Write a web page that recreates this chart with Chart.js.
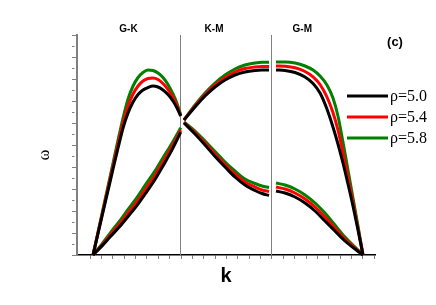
<!DOCTYPE html>
<html>
<head>
<meta charset="utf-8">
<script src="https://cdn.jsdelivr.net/npm/chart.js@4.4.1/dist/chart.umd.min.js"></script>
<style>
  html, body { margin: 0; padding: 0; background: #fff; }
</style>
</head>
<body>
<canvas id="chart" width="436" height="305"></canvas>
<script>
// symmetry points along the path G-K-M-G (k, arbitrary units)
const kPoints = [0, 0.964, 1.967, 2.967];
const segmentLabels = ["G-K", "K-M", "G-M"];
const segmentLabelK = [0.39, 1.33, 2.3];
const legendLabels = ["ρ=5.0", "ρ=5.4", "ρ=5.8"];
const colors = ["#000000", "#ff0000", "#008000"];

// G-K, upper branch
const kA = [0, 0.055, 0.11, 0.165, 0.22, 0.275, 0.33, 0.385, 0.44, 0.495, 0.549, 0.604, 0.659, 0.714, 0.769, 0.824, 0.879, 0.923, 0.964];
const wA50 = [0, 21.5, 43, 64.5, 86, 107, 127, 142, 153, 160.5, 165, 167.5, 169, 168, 165, 160.5, 154, 147, 139];
const wA54 = [0, 22.2, 44.5, 66.7, 89, 111, 132, 149, 161, 169, 174, 176.5, 177, 175.5, 171.5, 165.5, 157.5, 149.5, 139];
const wA58 = [0, 23, 46, 69, 92, 115, 137, 156, 169, 177.5, 182.5, 185, 184.5, 182, 177.5, 170.5, 161, 151.5, 140];

// G-K, lower branch
const kB = [0, 0.099, 0.192, 0.291, 0.385, 0.484, 0.577, 0.676, 0.769, 0.868, 0.964];
const wB50 = [0, 9.1, 18.5, 28.2, 38.5, 49.6, 61.5, 74.7, 89.1, 105.1, 122.8];
const wB54 = [0, 10.1, 20.4, 31, 42, 53.6, 65.9, 79, 93.1, 108.4, 125];
const wB58 = [0, 11.2, 22.4, 33.8, 45.6, 57.7, 70.3, 83.4, 97.2, 111.8, 127.2];

// K-M, both branches
const kC = [1.0, 1.121, 1.231, 1.341, 1.451, 1.56, 1.67, 1.78, 1.857, 1.934];
const wC50 = [135, 148, 159, 168, 175, 180, 183, 184.5, 185, 185];
const wC54 = [135, 149, 160.5, 170, 177.5, 183, 186.5, 188, 188.5, 188.5];
const wC58 = [135, 150, 162, 172, 180, 186, 190, 192, 192.7, 192.7];
const wD50 = [132, 121, 110, 98.5, 88, 78, 70, 64.5, 61.5, 59.5];
const wD54 = [132.5, 122.5, 112, 101, 90.5, 81, 73, 68, 65, 63.5];
const wD58 = [133, 124, 114, 103.5, 93, 84, 76, 71.5, 69, 67.5];

// M-G, upper branch
const kE = [2.011, 2.11, 2.22, 2.33, 2.418, 2.495, 2.571, 2.637, 2.692, 2.747, 2.802, 2.857, 2.912, 2.967];
const wE50 = [185, 184.5, 182.5, 178, 171.5, 162, 146, 128, 111, 92, 71, 49, 25, 0];
const wE54 = [189, 188.7, 187.2, 183.5, 178.2, 170.5, 158, 142.5, 125, 102.5, 78, 53, 27, 0];
const wE58 = [193, 193, 192, 189, 185, 179, 170, 157, 139, 113, 85, 57, 29, 0];

// M-G, lower branch
const kF = [2.011, 2.11, 2.22, 2.33, 2.44, 2.549, 2.659, 2.769, 2.879, 2.967];
const wF50 = [64, 62, 58, 52, 44, 34, 24, 14, 6, 0];
const wF54 = [68, 66, 62, 56, 48, 38, 27, 16, 7, 0];
const wF58 = [72, 70, 66, 60, 52, 42, 30, 18, 8, 0];

const branches = [
  [kA, [wA50, wA54, wA58]],
  [kB, [wB50, wB54, wB58]],
  [kC, [wC50, wC54, wC58]],
  [kC, [wD50, wD54, wD58]],
  [kE, [wE50, wE54, wE58]],
  [kF, [wF50, wF54, wF58]],
];

const datasets = [];
colors.forEach((color, c) => {
  branches.forEach(([ks, ws]) => {
    datasets.push({
      data: ks.map((k, i) => ({ x: k, y: ws[c][i] })),
      borderColor: color,
      borderWidth: 3,
      pointRadius: 0,
      fill: false,
      clip: false,
      cubicInterpolationMode: "monotone",
    });
  });
});

const decorations = {
  id: "decorations",
  beforeDatasetsDraw(chart) {
    const { ctx, chartArea, scales } = chart;
    ctx.save();
    ctx.strokeStyle = "#808080";
    ctx.lineWidth = 1;
    [kPoints[1], kPoints[2]].forEach((k) => {
      const x = Math.floor(scales.x.getPixelForValue(k)) + 0.5;
      ctx.beginPath();
      ctx.moveTo(x, chartArea.top);
      ctx.lineTo(x, chartArea.bottom);
      ctx.stroke();
    });
    ctx.restore();
  },
  afterDraw(chart) {
    const { ctx, scales } = chart;
    ctx.save();
    ctx.fillStyle = "#000";
    ctx.textAlign = "center";
    ctx.textBaseline = "middle";

    ctx.font = "bold 10px 'Liberation Sans'";
    segmentLabels.forEach((label, i) => {
      ctx.fillText(label, scales.x.getPixelForValue(segmentLabelK[i]), 29.5);
    });

    ctx.font = "bold 13px 'Liberation Sans'";
    ctx.fillText("(c)", 395, 42.5);

    ctx.save();
    ctx.translate(45, 155);
    ctx.rotate(-Math.PI / 2);
    ctx.font = "16px 'Liberation Serif'";
    ctx.fillText("ω", 0, 0);
    ctx.restore();

    ctx.textAlign = "left";
    ctx.font = "16px 'Liberation Serif'";
    legendLabels.forEach((label, i) => {
      const y = 96 + i * 21;
      ctx.strokeStyle = colors[i];
      ctx.lineWidth = 3;
      ctx.beginPath();
      ctx.moveTo(347, y);
      ctx.lineTo(388, y);
      ctx.stroke();
      ctx.fillText(label, 390, y + 0.5);
    });
    ctx.restore();
  },
};

new Chart(document.getElementById("chart"), {
  type: "line",
  data: { datasets: datasets },
  plugins: [decorations],
  options: {
    responsive: false,
    animation: false,
    devicePixelRatio: 1,
    layout: { padding: { top: 35, right: 61, left: 0, bottom: 0 } },
    plugins: { legend: { display: false }, tooltip: { enabled: false } },
    scales: {
      x: {
        type: "linear",
        min: -0.176,
        max: 3.099,
        afterFit: (s) => { s.height = 50; },
        afterBuildTicks: (s) => {
          const ticks = [];
          for (let n = -1; n <= 24; n++) ticks.push({ value: kPoints[3] - n * 0.125 });
          s.ticks = ticks.reverse();
        },
        ticks: { display: false },
        grid: { drawOnChartArea: false, tickLength: 4, tickColor: "#808080", tickWidth: 1 },
        border: { color: "#000", width: 1.5 },
        title: {
          display: true,
          text: "k",
          color: "#000",
          font: { family: "Liberation Sans", size: 20, weight: "bold" },
          padding: { top: 0, bottom: 17 },
        },
      },
      y: {
        min: 0,
        max: 220,
        afterFit: (s) => { s.width = 77; },
        afterBuildTicks: (s) => {
          const ticks = [];
          for (let v = 0; v <= 220; v += 11) ticks.push({ value: v });
          s.ticks = ticks;
        },
        ticks: { display: false },
        grid: {
          drawOnChartArea: false,
          tickLength: 5,
          tickColor: "#808080",
          tickWidth: 1,
          tickBorderDash: (ctx) => (ctx.tick && ctx.tick.value % 22 === 0 ? [] : [2.5, 20]),
        },
        border: { color: "#808080", width: 2 },
      },
    },
  },
});
</script>
</body>
</html>
